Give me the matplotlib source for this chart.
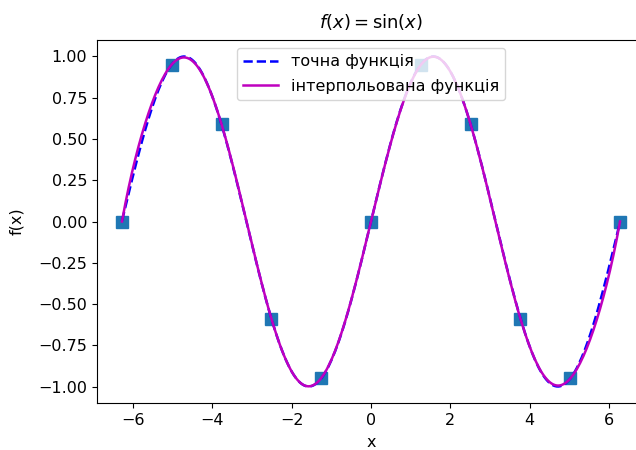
import numpy as np
import matplotlib
matplotlib.use("Agg")
import matplotlib.pyplot as plt

plt.rcParams.update({'font.size': 11.5})

# interpolation nodes
x_nodes = [-6.28, -5.03, -3.77, -2.51, -1.26, 0.0, 1.26, 2.51, 3.77, 5.03, 6.28]
y_nodes = [0.0, 0.95, 0.59, -0.59, -0.95, 0.0, 0.95, 0.59, -0.59, -0.95, 0.0]

labels = ["точна функція", "інтерпольована функція"]
title = r"$f(x) = \sin(x)$"

# curves
x = np.linspace(min(x_nodes), max(x_nodes), 300)
y_exact = np.sin(x)
coeffs = np.polyfit(x_nodes, y_nodes, len(x_nodes) - 1)
y_interp = np.polyval(coeffs, x)

fig = plt.figure(figsize=(6.36, 4.5), dpi=100)
# the axes run past the right edge, like the cropped screenshot
ax = fig.add_axes([97 / 636, 47 / 450, 548 / 636, 363 / 450])
ax.spines['right'].set_visible(False)

ax.plot(x_nodes, y_nodes, 's', color='#1f77b4', markersize=8.5)
ax.plot(x, y_exact, 'b--', linewidth=1.8, label=labels[0])
ax.plot(x, y_interp, 'm', linewidth=1.8, label=labels[1])

ax.set_title(title, fontsize=13, pad=9)
ax.set_xlabel("x", labelpad=5)
ax.set_ylabel("f(x)", labelpad=10)
ax.set_xlim(-6.91, 6.91)
ax.set_xticks([-6, -4, -2, 0, 2, 4, 6])
ax.legend(loc='upper center', borderaxespad=0.5, labelspacing=0.6,
          handlelength=2.2)

fig.savefig("out.png", dpi=100)
